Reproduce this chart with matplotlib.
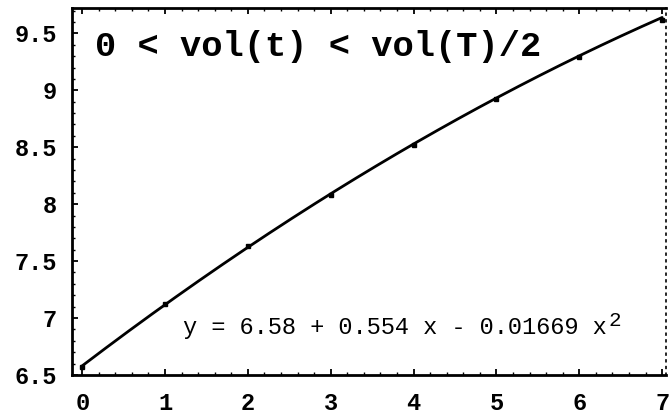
import numpy as np
import matplotlib
matplotlib.use("Agg")
import matplotlib.pyplot as plt
from matplotlib.ticker import MultipleLocator

# measured values
x_vals = [0, 1, 2, 3, 4, 5, 6, 7]
y_vals = [6.57, 7.12, 7.63, 8.08, 8.52, 8.92, 9.29, 9.62]

# quadratic fit coefficients: y = c0 + c1 x + c2 x^2
fit_coeffs = [6.58, 0.554, -0.01669]

x_ticks = [0, 1, 2, 3, 4, 5, 6, 7]
y_ticks = [6.5, 7, 7.5, 8, 8.5, 9, 9.5]
y_tick_labels = ["6.5", "7", "7.5", "8", "8.5", "9", "9.5"]

title_text = "0 < vol(t) < vol(T)/2"
eq_text = "y = 6.58 + 0.554 x - 0.01669 x"

mono = "Liberation Mono"

fig = plt.figure(figsize=(6.69, 4.18), dpi=100)
ax = fig.add_axes([0.108, 0.103, 0.888, 0.877])

xs = np.linspace(0, 7, 200)
ys = fit_coeffs[0] + fit_coeffs[1] * xs + fit_coeffs[2] * xs ** 2
ax.plot(xs, ys, color="black", lw=2.0, solid_capstyle="round")
ax.plot(x_vals, y_vals, ls="none", marker="s", ms=3.5, color="black")

ax.set_xlim(-0.12, 7.05)
ax.set_ylim(6.5, 9.72)

ax.set_xticks(x_ticks)
ax.set_xticklabels([str(v) for v in x_ticks])
ax.set_yticks(y_ticks)
ax.set_yticklabels(y_tick_labels)
ax.xaxis.set_minor_locator(MultipleLocator(0.2))
ax.yaxis.set_minor_locator(MultipleLocator(0.1))

ax.tick_params(which="major", direction="in", length=4, width=1.3,
               top=True, right=False)
ax.tick_params(which="minor", direction="in", length=2, width=1.0,
               top=True, right=False)
ax.tick_params(axis="x", which="major", pad=12)
ax.tick_params(axis="y", which="major", pad=11)
for lab in ax.get_xticklabels() + ax.get_yticklabels():
    lab.set_fontfamily(mono)
    lab.set_fontweight("bold")
    lab.set_fontsize(17)

for side in ("left", "bottom", "top"):
    ax.spines[side].set_linewidth(2.0)
ax.spines["right"].set_linewidth(1.2)
ax.spines["right"].set_linestyle((0, (1, 3)))

ax.text(0.039, 0.895, title_text, transform=ax.transAxes, family=mono,
        fontweight="bold", fontsize=25.5, ha="left", va="center")

t = ax.text(0.187, 0.112, eq_text, transform=ax.transAxes, family=mono,
            fontsize=17, ha="left", va="baseline")
ax.annotate("2", xy=(1.0, 0.0), xycoords=t, xytext=(1, 9),
            textcoords="offset points", family=mono, fontsize=15,
            ha="left", va="baseline")

fig.savefig("out.png", dpi=100, facecolor="white")
